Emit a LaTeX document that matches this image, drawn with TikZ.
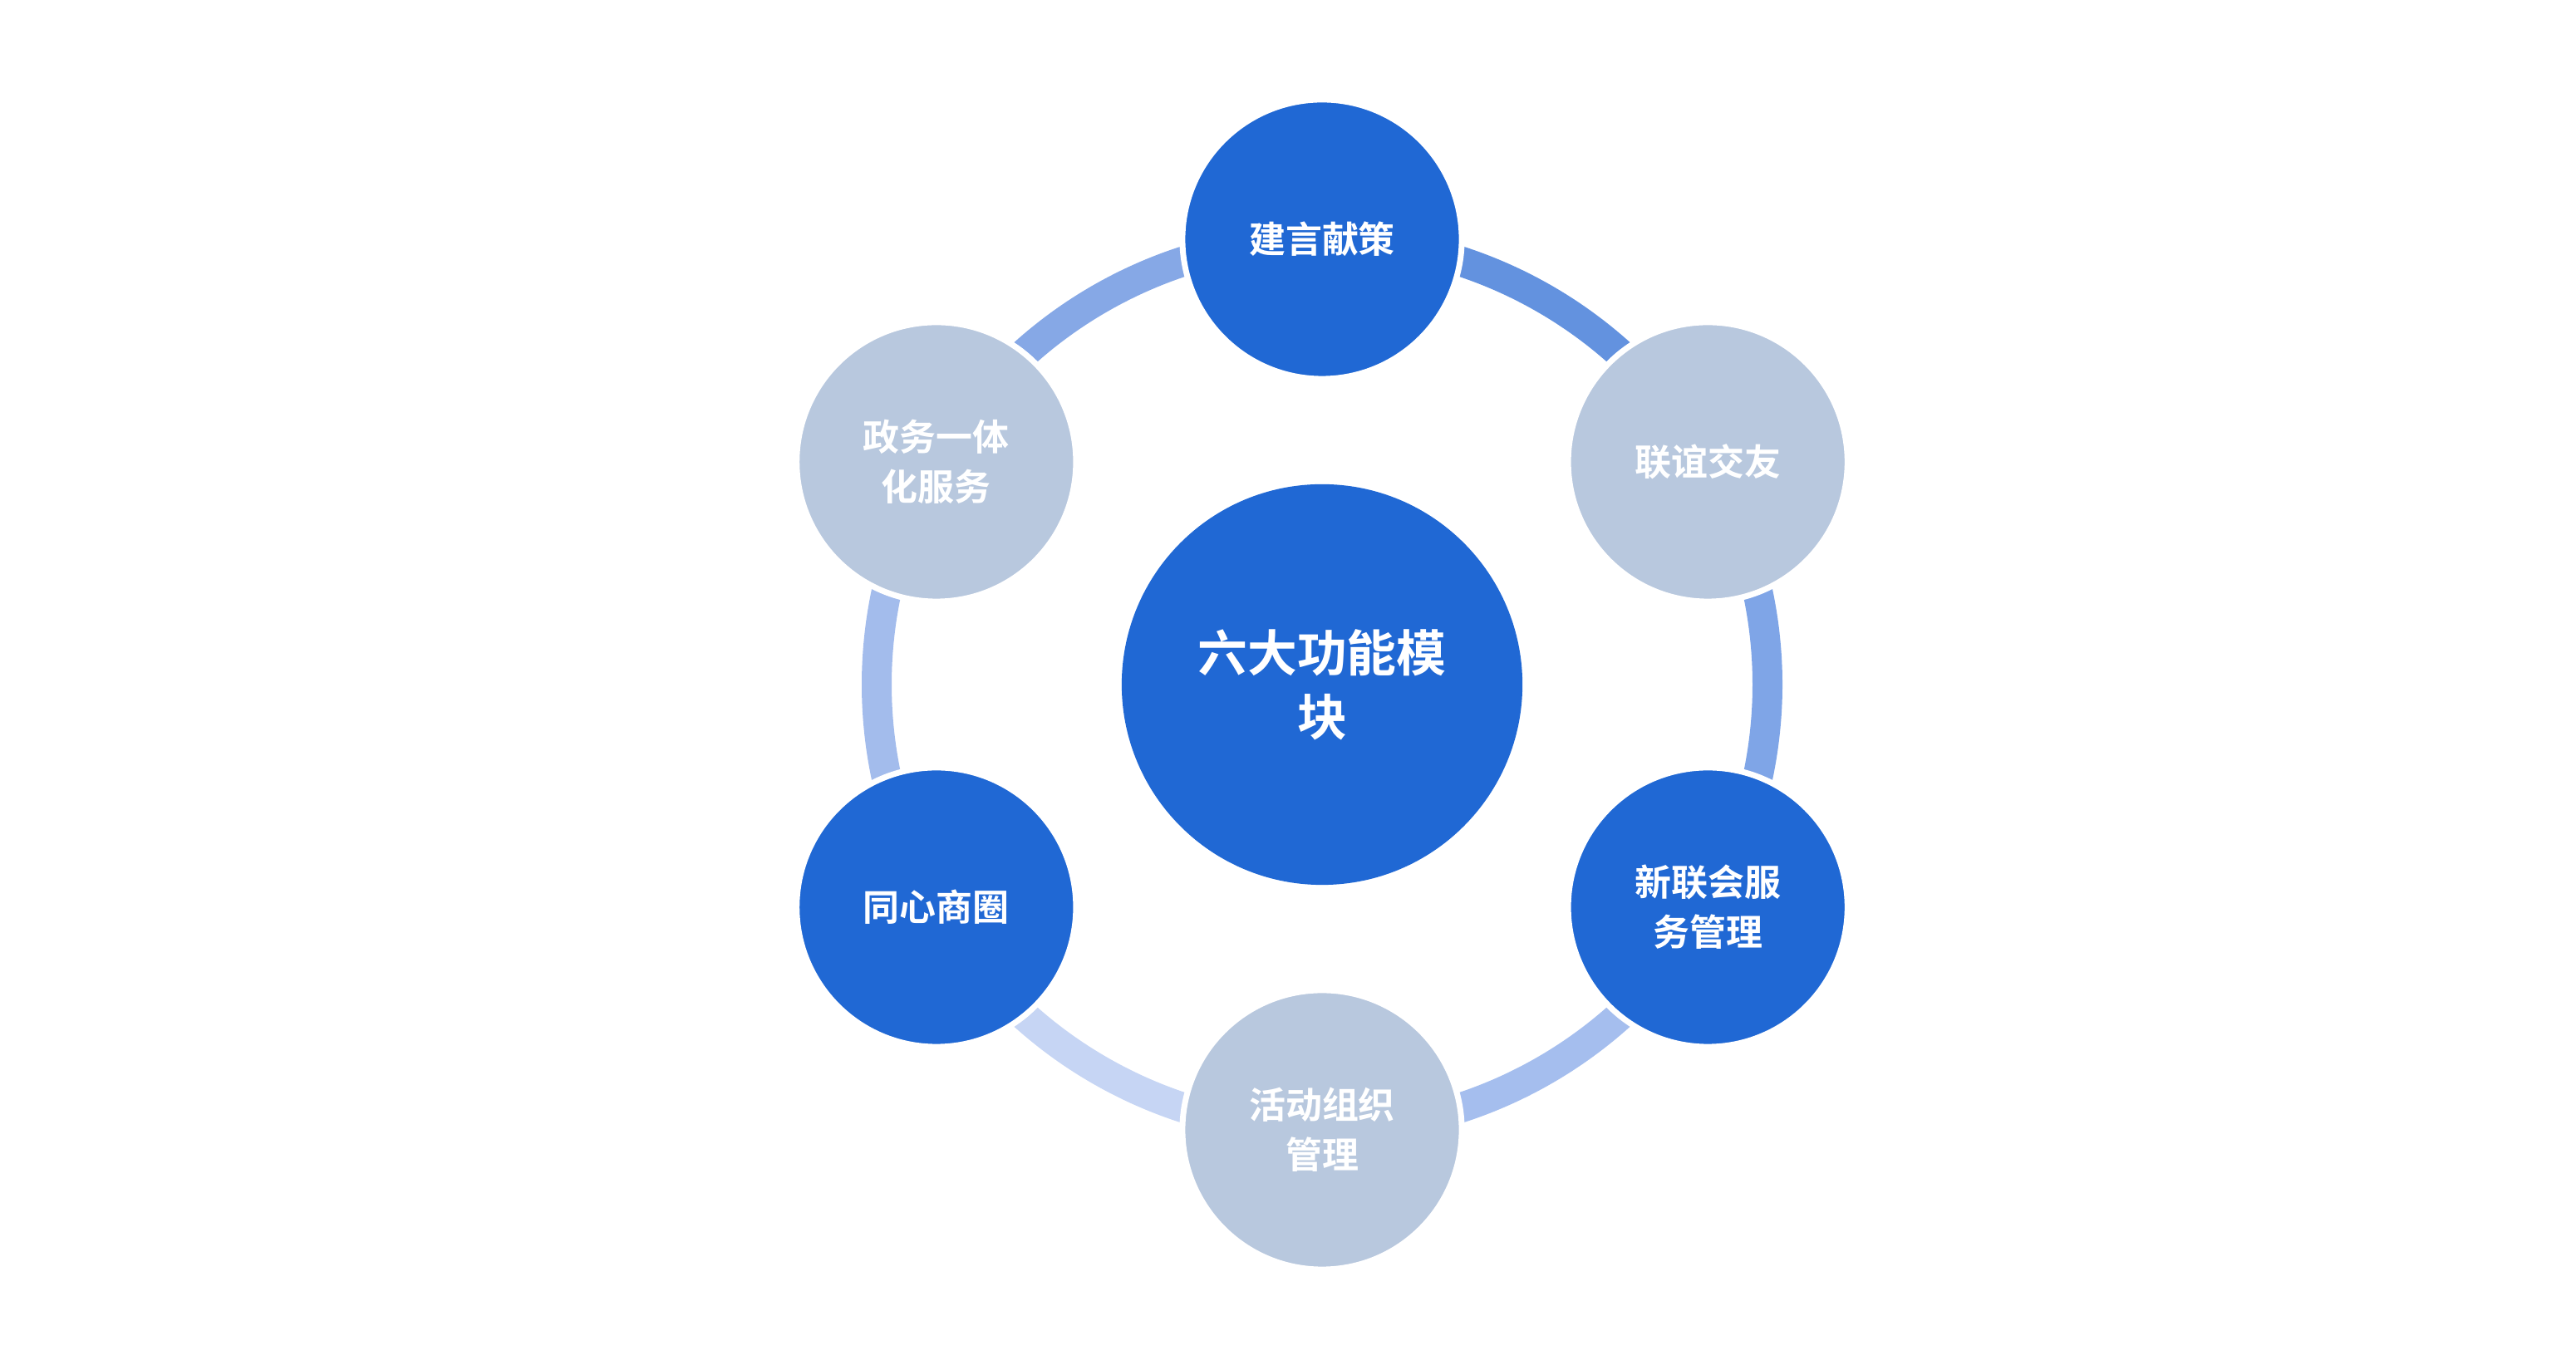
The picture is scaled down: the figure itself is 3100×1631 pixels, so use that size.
\documentclass[tikz,border=0pt]{standalone}
\usepackage{fontspec}
\usetikzlibrary{calc}
\newfontfamily\cjk{Noto Sans CJK SC Bold}
\definecolor{dblue}{HTML}{2068D4}
\definecolor{lgray}{HTML}{B8C8DE}
\definecolor{s1}{HTML}{6392DF}
\definecolor{s2}{HTML}{7FA5E7}
\definecolor{s3}{HTML}{A5BEEE}
\definecolor{s4}{HTML}{C6D5F4}
\definecolor{s5}{HTML}{A3BCEC}
\definecolor{s6}{HTML}{86A8E6}
\begin{document}
\begin{tikzpicture}[x=0.01cm,y=0.01cm,
  sat/.style={circle,minimum size=3.36cm,draw=white,line width=0.07cm,text=white,font=\cjk\fontsize{12.5}{17}\selectfont,align=center,inner sep=0},
  hub/.style={circle,minimum size=4.82cm,fill=dblue,text=white,font=\cjk\fontsize{17}{22}\selectfont,align=center,inner sep=0}]
\useasboundingbox (0,0) rectangle (3100,1631);
\coordinate (c) at (1591,807);
\foreach \a/\col in {90/s1,30/s2,-30/s3,-90/s4,-150/s5,150/s6}{
  \draw[\col,line width=0.36cm] ($(c)+(\a:536)$) arc[start angle=\a,end angle=\a-60,radius=536];
}
\node[hub] (hub) at (c) {六大功能模\\块};
\node[sat,fill=dblue] (n1) at ($(c)+(90:536)$) {建言献策};
\node[sat,fill=lgray] (n2) at ($(c)+(30:536)$) {联谊交友};
\node[sat,fill=dblue] (n3) at ($(c)+(-30:536)$) {新联会服\\务管理};
\node[sat,fill=lgray] (n4) at ($(c)+(-90:536)$) {活动组织\\管理};
\node[sat,fill=dblue] (n5) at ($(c)+(-150:536)$) {同心商圈};
\node[sat,fill=lgray] (n6) at ($(c)+(150:536)$) {政务一体\\化服务};
\end{tikzpicture}
\end{document}
